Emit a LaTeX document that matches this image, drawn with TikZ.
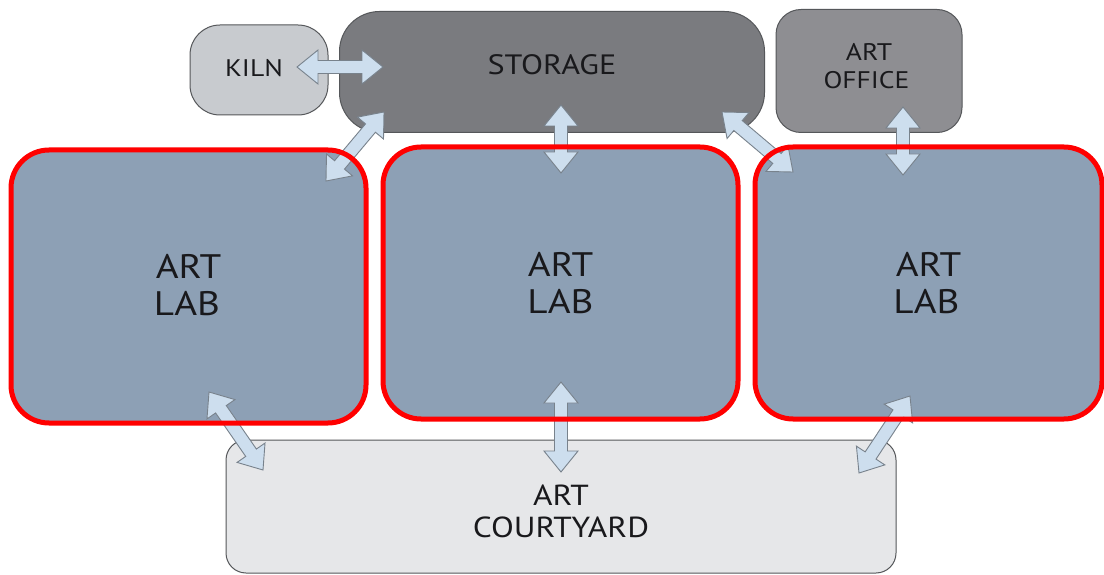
\documentclass[tikz,border=0pt]{standalone}
\usepackage{fontspec}
\setmainfont{PT Sans}[FakeStretch=1.15]
\usetikzlibrary{calc}
\definecolor{labfill}{RGB}{141,160,181}
\definecolor{storfill}{RGB}{122,123,127}
\definecolor{offfill}{RGB}{142,142,146}
\definecolor{kilnfill}{RGB}{200,203,207}
\definecolor{courtfill}{RGB}{230,231,233}
\definecolor{arrfill}{RGB}{205,222,238}
\definecolor{arrline}{RGB}{120,130,140}
\definecolor{boxline}{RGB}{85,87,90}
\definecolor{txt}{RGB}{25,25,28}
\newcommand\hl{21pt}
\newcommand\hw{17pt}
\newcommand\sw{6.5pt}
\newcommand\dblarrow[2]{%
\draw[arr] (#1) -- ($($(#1)!\hl!(#2)$)!\hw!90:(#2)$) -- ($($(#1)!\hl!(#2)$)!\sw!90:(#2)$)
 -- ($($(#2)!\hl!(#1)$)!\sw!-90:(#1)$) -- ($($(#2)!\hl!(#1)$)!\hw!-90:(#1)$) -- (#2)
 -- ($($(#2)!\hl!(#1)$)!\hw!90:(#1)$) -- ($($(#2)!\hl!(#1)$)!\sw!90:(#1)$)
 -- ($($(#1)!\hl!(#2)$)!\sw!-90:(#2)$) -- ($($(#1)!\hl!(#2)$)!\hw!-90:(#2)$) -- cycle;}
\tikzset{
  room/.style={draw=boxline, line width=1pt, inner sep=0pt, outer sep=0pt, text=txt, align=center},
  labroom/.style={fill=labfill, inner sep=0pt, outer sep=0pt, text=txt, align=center,
     minimum height=272pt, font=\fontsize{34}{37}\selectfont},
  redbox/.style={draw=red, line width=5pt, rounded corners=38pt},
  arr/.style={fill=arrfill, draw=arrline, line width=0.9pt, line join=miter},
}
\begin{document}
\begin{tikzpicture}[x=1pt,y=-1pt]
\useasboundingbox (0,0) rectangle (1104,575);
\fill[white] (0,0) rectangle (1104,575);
% rooms
\node[room, fill=courtfill, rounded corners=20pt, minimum width=670pt, minimum height=133pt] (court) at (561,506.5) {};
\node[text=txt, align=center, font=\fontsize{29}{32}\selectfont] (courtlabel) at (561,511) {ART\\COURTYARD};
\node[room, fill=kilnfill, rounded corners=30pt, minimum width=138pt, minimum height=90pt,
      font=\fontsize{24}{28}\selectfont] (kiln) at (259,70) {\raisebox{4pt}{KILN}\hspace*{10pt}};
\node[room, fill=storfill, rounded corners=40pt, minimum width=425pt, minimum height=121pt,
      font=\fontsize{28}{30}\selectfont] (stor) at (552,72) {\raisebox{14pt}{STORAGE}};
\node[room, fill=offfill, rounded corners=25pt, minimum width=186pt, minimum height=123pt,
      font=\fontsize{24}{28}\selectfont] (office) at (869,71) {\raisebox{10pt}{ART}\\\raisebox{10pt}{OFFICE}\hspace*{5pt}};
\node[labroom, minimum width=355pt, minimum height=273pt, rounded corners=38pt] (lab1) at (188.5,286.5) {\raisebox{3pt}{ART}\\\raisebox{3pt}{LAB}\hspace*{3pt}};
\node[labroom, minimum width=355pt, rounded corners=38pt] (lab2) at (560.5,283) {ART\\LAB};
\node[labroom, minimum width=347pt, rounded corners=38pt] (lab3) at (928.5,283) {ART\\LAB\hspace*{4pt}};
% arrow end points
\coordinate (k1) at (297,67);   \coordinate (s1) at (383,67);
\coordinate (s2) at (384,112);  \coordinate (l1a) at (326,181);
\coordinate (s3) at (561,105);  \coordinate (l2a) at (561,173);
\coordinate (s4) at (722,112);  \coordinate (l3a) at (793,172);
\coordinate (o1) at (903,107);  \coordinate (l3b) at (903,175);
\coordinate (l1b) at (209,392); \coordinate (c1) at (263,470);
\coordinate (l2b) at (561,382); \coordinate (c2) at (561,472);
\coordinate (l3c) at (910,396); \coordinate (c3) at (859,473);
\dblarrow{k1}{s1}
\dblarrow{s2}{l1a}
\dblarrow{s3}{l2a}
\dblarrow{s4}{l3a}
\dblarrow{o1}{l3b}
\dblarrow{l1b}{c1}
\dblarrow{l2b}{c2}
\dblarrow{l3c}{c3}
% red outlines of the labs
\draw[redbox] (lab1.south west) rectangle (lab1.north east);
\draw[redbox] (lab2.south west) rectangle (lab2.north east);
\draw[redbox] (lab3.south west) rectangle (lab3.north east);
\end{tikzpicture}
\end{document}
